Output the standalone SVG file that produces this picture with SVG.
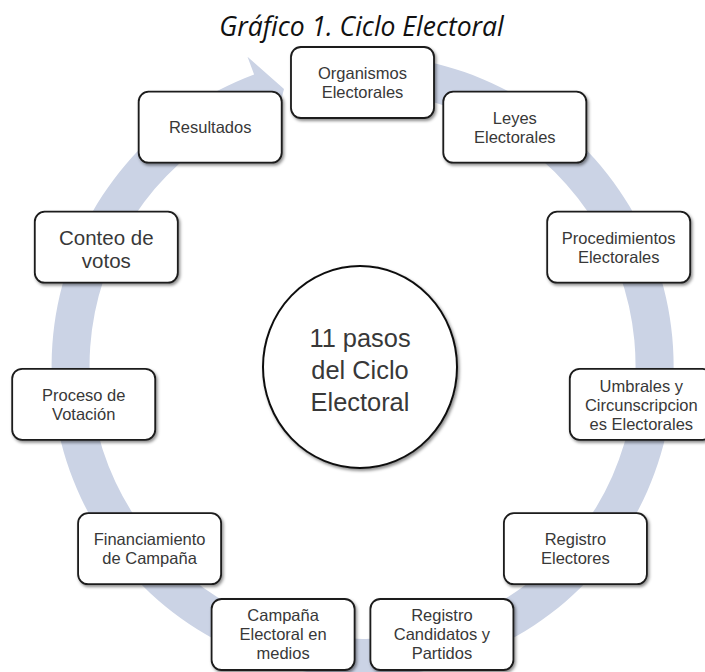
<svg xmlns="http://www.w3.org/2000/svg" width="705" height="672" viewBox="0 0 705 672">
<defs>
<filter id="sh" x="-10%" y="-10%" width="125%" height="135%">
<feDropShadow dx="1.5" dy="2" stdDeviation="1.6" flood-color="#000" flood-opacity="0.45"/>
</filter>
<style>
.box{fill:#fff;stroke:#1a1a1a;stroke-width:1.8;filter:url(#sh)}
.t{font-family:"Liberation Sans",Arial,sans-serif;font-size:16.5px;fill:#383838;text-anchor:middle}
.tl{font-size:20.5px}
.tc{font-size:25.4px}
.title{font-family:"Open Sans","Noto Sans",sans-serif;font-style:italic;font-size:26.5px;fill:#111;text-anchor:middle}
.ring{fill:#cbd3e5}
</style>
</defs>
<rect width="705" height="672" fill="#fff"/>
<text class="title" x="361.5" y="36">Gráfico 1. Ciclo Electoral</text>

<g id="connectors">
<path class="ring" d="M308.5,59.7 A311,311 0 1 1 254.1,74.5 L247.5,56.7 L284,89 L274,127.9 L267.3,110.1 A273,273 0 1 0 315.1,97.1 Z"/>
</g>

<g id="center">
<ellipse cx="360" cy="367" rx="97" ry="101" fill="#fff" stroke="#111" stroke-width="2" filter="url(#sh)"/>
<text class="t tc" x="360" y="347">11 pasos</text>
<text class="t tc" x="360" y="379">del Ciclo</text>
<text class="t tc" x="360" y="411">Electoral</text>
</g>

<g id="n0">
<rect class="box" x="291" y="47" width="143" height="71" rx="10"/>
<text class="t" x="362.5" y="78.9">Organismos</text>
<text class="t" x="362.5" y="97.9">Electorales</text>
</g>
<g id="n1">
<rect class="box" x="443.3" y="91.7" width="143" height="71" rx="10"/>
<text class="t" x="514.8" y="123.6">Leyes</text>
<text class="t" x="514.8" y="142.6">Electorales</text>
</g>
<g id="n2">
<rect class="box" x="547.2" y="211.7" width="143" height="71" rx="10"/>
<text class="t" x="618.7" y="243.6">Procedimientos</text>
<text class="t" x="618.7" y="262.6">Electorales</text>
</g>
<g id="n3">
<rect class="box" x="569.8" y="368.8" width="143" height="71" rx="10"/>
<text class="t" x="641.3" y="392">Umbrales y</text>
<text class="t" x="641.3" y="411">Circunscripcion</text>
<text class="t" x="641.3" y="430">es Electorales</text>
</g>
<g id="n4">
<rect class="box" x="503.9" y="513.2" width="143" height="71" rx="10"/>
<text class="t" x="575.4" y="545.1">Registro</text>
<text class="t" x="575.4" y="564.1">Electores</text>
</g>
<g id="n5">
<rect class="box" x="370.4" y="599" width="143" height="71" rx="10"/>
<text class="t" x="441.9" y="621.4">Registro</text>
<text class="t" x="441.9" y="640.4">Candidatos y</text>
<text class="t" x="441.9" y="659.4">Partidos</text>
</g>
<g id="n6">
<rect class="box" x="211.6" y="599" width="143" height="71" rx="10"/>
<text class="t" x="283.1" y="621.4">Campaña</text>
<text class="t" x="283.1" y="640.4">Electoral en</text>
<text class="t" x="283.1" y="659.4">medios</text>
</g>
<g id="n7">
<rect class="box" x="78.1" y="513.2" width="143" height="71" rx="10"/>
<text class="t" x="149.6" y="545.1">Financiamiento</text>
<text class="t" x="149.6" y="564.1">de Campaña</text>
</g>
<g id="n8">
<rect class="box" x="12.2" y="368.8" width="143" height="71" rx="10"/>
<text class="t" x="83.7" y="400.7">Proceso de</text>
<text class="t" x="83.7" y="419.7">Votación</text>
</g>
<g id="n9">
<rect class="box" x="34.8" y="211.7" width="143" height="71" rx="10"/>
<text class="t tl" x="106.3" y="245">Conteo de</text>
<text class="t tl" x="106.3" y="268">votos</text>
</g>
<g id="n10">
<rect class="box" x="138.7" y="91.7" width="143" height="71" rx="10"/>
<text class="t" x="210.2" y="133">Resultados</text>
</g>
</svg>
